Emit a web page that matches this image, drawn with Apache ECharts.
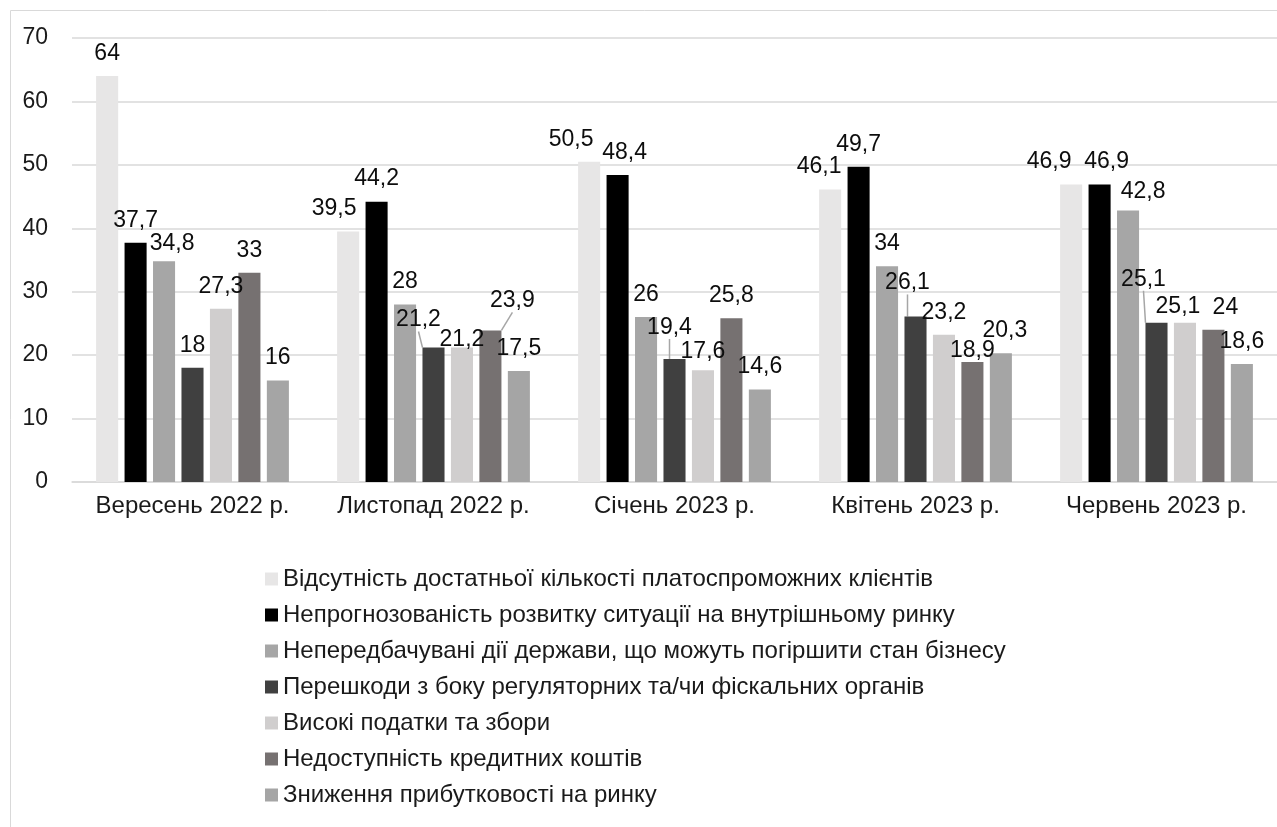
<!DOCTYPE html>
<html>
<head>
<meta charset="utf-8">
<script src="https://cdn.jsdelivr.net/npm/echarts@6/dist/echarts.min.js"></script>
<style>
  html, body { margin: 0; padding: 0; background: #fff; }
  #chart { width: 1277px; height: 827px; }
</style>
</head>
<body>
<div id="chart"></div>
<script>
const categories = ['Вересень 2022 р.', 'Листопад 2022 р.', 'Січень 2023 р.', 'Квітень 2023 р.', 'Червень 2023 р.'];
const seriesNames = [
  'Відсутність достатньої кількості платоспроможних клієнтів',
  'Непрогнозованість розвитку ситуації на внутрішньому ринку',
  'Непередбачувані дії держави, що можуть погіршити стан бізнесу',
  'Перешкоди з боку регуляторних та/чи фіскальних органів',
  'Високі податки та збори',
  'Недоступність кредитних коштів',
  'Зниження прибутковості на ринку'
];
const clients = [64, 39.5, 50.5, 46.1, 46.9];
const forecast = [37.7, 44.2, 48.4, 49.7, 46.9];
const stateActions = [34.8, 28, 26, 34, 42.8];
const regulators = [18, 21.2, 19.4, 26.1, 25.1];
const taxes = [27.3, 21.2, 17.6, 23.2, 25.1];
const credit = [33, 23.9, 25.8, 18.9, 24];
const profit = [16, 17.5, 14.6, 20.3, 18.6];
const yMin = 0, yMax = 70, yStep = 10;

const values = [clients, forecast, stateActions, regulators, taxes, credit, profit];
const colors = ['#e7e6e6', '#000000', '#a6a6a6', '#404040', '#d0cece', '#767171', '#a5a5a5'];

// label offsets copied from the original layout (dx, dy per category)
const nudge = [
  [[0, 0], [-14, 0], [-18, 0], [-11, 0], [-22, 0]],
  [[0, 0], [0, 0], [7, 0], [0, 0], [7, 0]],
  [[8, 5], [0, 0], [0, 0], [0, 0], [15, 4]],
  [[0, 0], [-15, -5], [-5, -9], [-8, -11], [-13, -21]],
  [[0, 0], [0, 15], [0, 4], [0, 0], [-7, 6]],
  [[0, 0], [22, -7], [0, 0], [0, 11], [12, 0]],
  [[0, 0], [0, 0], [0, 0], [4, 0], [0, 0]]
];
const leader = { '3-1': 1, '3-2': 1, '3-3': 1, '3-4': 1, '5-1': 1 };

const font = 'Liberation Sans, Arial, sans-serif';
const myChart = echarts.init(document.getElementById('chart'));

myChart.setOption({
  animation: false,
  textStyle: { fontFamily: font },
  graphic: [{
    type: 'rect',
    shape: { x: 10.5, y: 10.5, width: 1300, height: 900 },
    style: { fill: 'none', stroke: '#d9d9d9', lineWidth: 1 },
    silent: true
  }],
  grid: { left: 72, right: 0, top: 38, bottom: 345 },
  legend: {
    orient: 'vertical',
    left: 260,
    top: 562,
    icon: 'rect',
    itemWidth: 13,
    itemHeight: 13,
    itemGap: 12,
    textStyle: { fontSize: 24, color: '#1a1a1a', fontFamily: font, lineHeight: 24 },
    data: seriesNames
  },
  xAxis: {
    type: 'category',
    data: categories,
    axisTick: { show: false },
    axisLine: { lineStyle: { color: '#d9d9d9', width: 1.5 } },
    axisLabel: { interval: 0, fontSize: 24, color: '#1a1a1a', margin: 12, fontFamily: font }
  },
  yAxis: {
    type: 'value',
    min: yMin,
    max: yMax,
    interval: yStep,
    axisLine: { show: false },
    axisTick: { show: false },
    splitLine: { lineStyle: { color: '#d9d9d9', width: 1.5 } },
    axisLabel: { fontSize: 23, color: '#1a1a1a', margin: 24, fontFamily: font }
  },
  series: values.map((vals, si) => ({
    name: seriesNames[si],
    type: 'bar',
    barCategoryGap: '20%',
    barGap: '29%',
    itemStyle: { color: colors[si] },
    data: vals.map((v, ci) => ({
      value: v,
      labelLine: { show: !!leader[si + '-' + ci] }
    })),
    label: {
      show: true,
      position: 'top',
      distance: 11,
      fontSize: 23,
      color: '#0d0d0d',
      fontFamily: font,
      formatter: p => String(p.value).replace('.', ',')
    },
    labelLine: { show: false, lineStyle: { color: '#a6a6a6', width: 1.5 } },
    labelLayout: p => ({ dx: nudge[si][p.dataIndex][0], dy: nudge[si][p.dataIndex][1] })
  }))
});
</script>
</body>
</html>
